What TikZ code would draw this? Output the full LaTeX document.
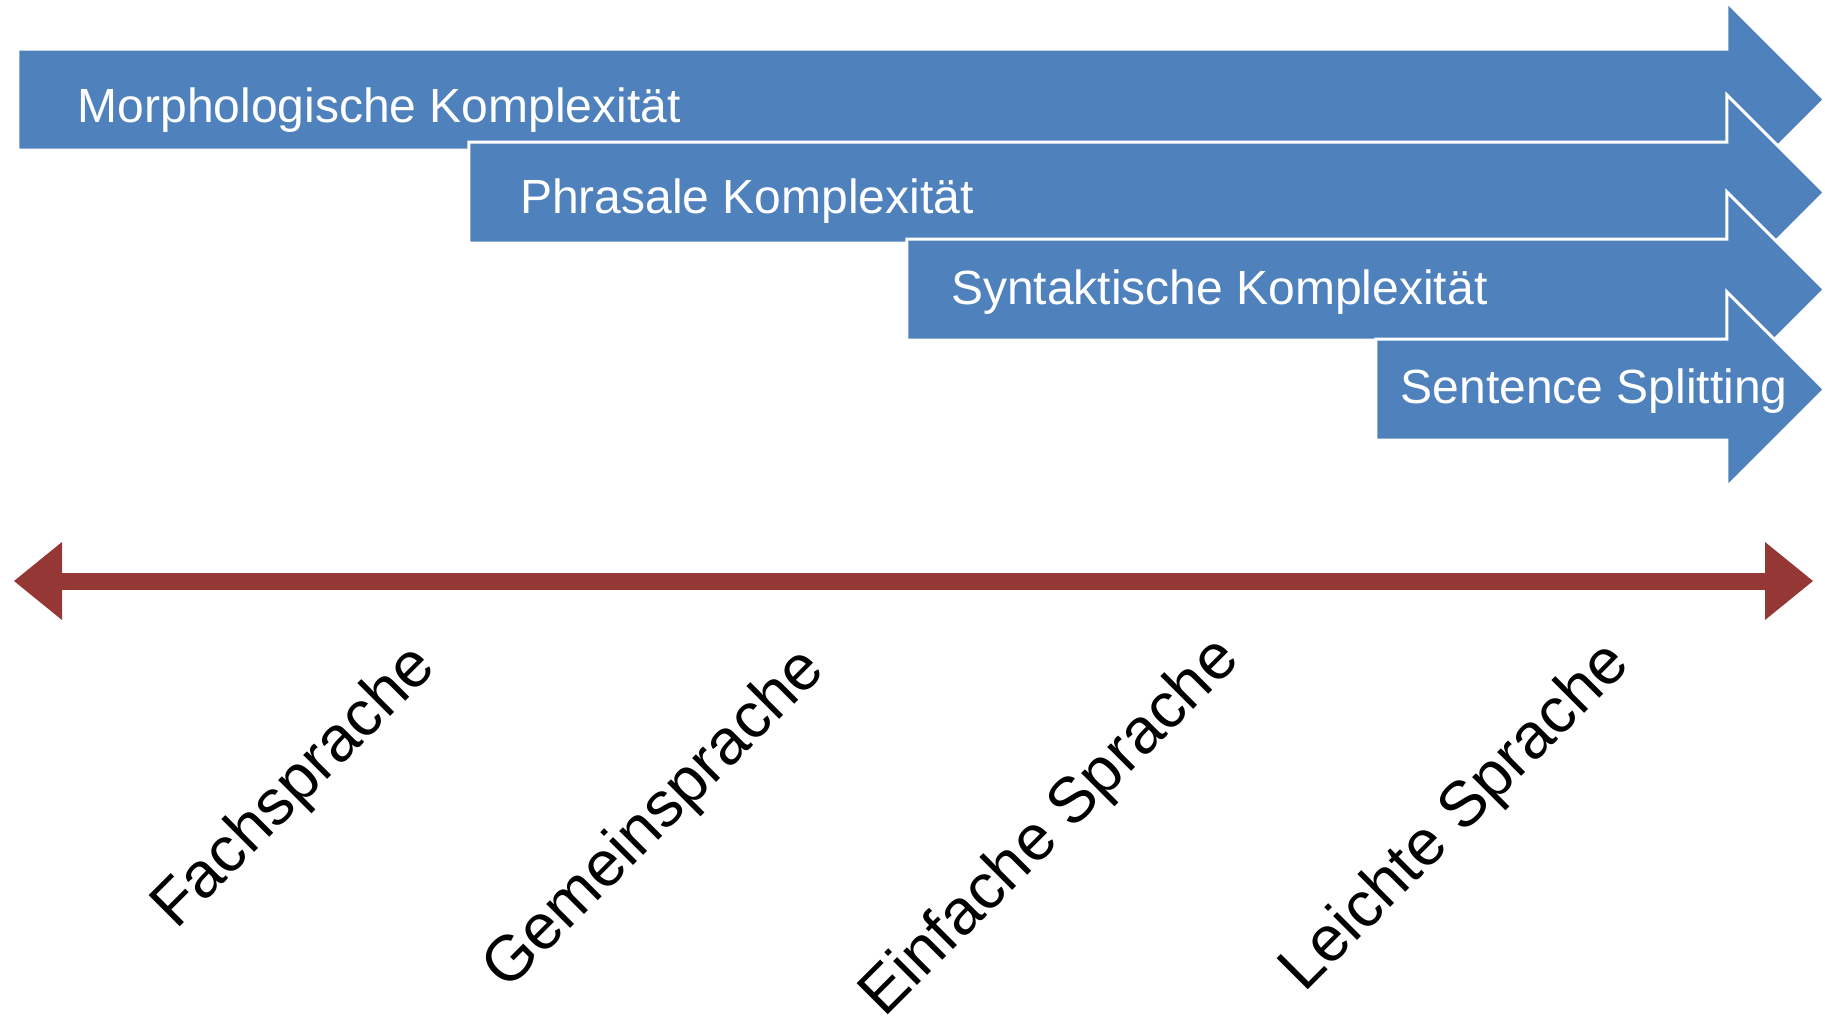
\documentclass[tikz,border=0pt]{standalone}
\usepackage{fontspec}
\setmainfont{Liberation Sans}
\usepackage{xcolor}
\usetikzlibrary{arrows.meta,positioning,calc,shapes.arrows}
\definecolor{bandblue}{HTML}{4F81BD}
\definecolor{axisred}{HTML}{953735}

\begin{document}
\begin{tikzpicture}[x=1pt, y=-1pt,
  band/.style={single arrow, fill=bandblue, draw=white, line width=3pt, inner xsep=0pt, inner ysep=49pt, single arrow head extend=47pt, anchor=tip},
  bandtxt/.style={anchor=base west, inner sep=0pt, text=white, font=\fontsize{48}{58}\selectfont},
  axis/.style={{Triangle[length=48pt, width=78pt, line width=0pt]}-{Triangle[length=48pt, width=78pt, line width=0pt]}, line width=17pt, draw=axisred},
  level/.style={anchor=base west, inner sep=0pt, rotate=45, font=\fontsize{64}{77}\selectfont}
]
\useasboundingbox (0,0) rectangle (1825,1017);

% complexity bands
\node[band, minimum height=1806.5pt] (morph) at (1826.5,99.5) {};
\node[bandtxt] (morphtxt) at (77.5,122) {Morphologische Komplexität};

\node[band, minimum height=1355.5pt] (phras) at (1826.5,192.5) {};
\node[bandtxt] (phrastxt) at (520,213) {Phrasale Komplexität};

\node[band, minimum height=917.5pt] (synt) at (1826.5,289.5) {};
\node[bandtxt] (synttxt) at (951,304) {Syntaktische Komplexität};

\node[band, minimum height=448.5pt] (split) at (1826.5,389.5) {};
\node[bandtxt] (splittxt) at (1400.5,403) {Sentence Splitting};

% scale
\coordinate (lft) at (14,581);
\coordinate (rgt) at (1813,581);
\draw[axis] (lft) -- (rgt);

\node[level] (fach) at (176,931) {Fachsprache};
\node[level] (gemein) at (507,991.5) {Gemeinsprache};
\node[level] (einfach) at (884,1019) {Einfache Sprache};
\node[level] (leicht) at (1304.5,993.5) {Leichte Sprache};
\end{tikzpicture}
\end{document}
